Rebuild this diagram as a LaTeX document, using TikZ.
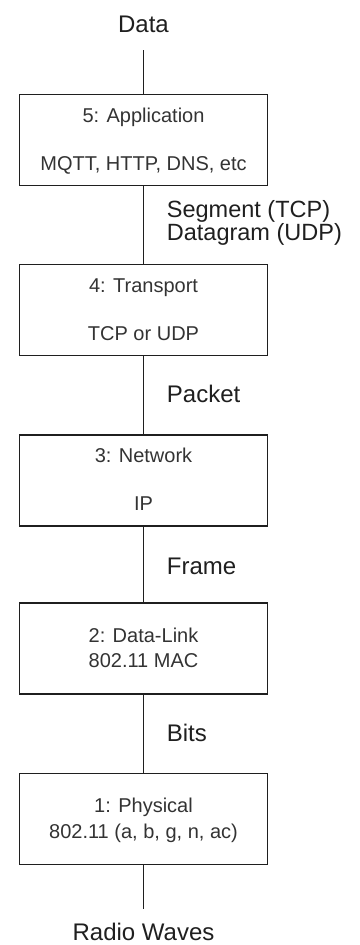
\documentclass[tikz,border=0pt]{standalone}
\usepackage{fontspec}
\setmainfont{Liberation Sans}
\begin{document}
\begin{tikzpicture}[x=1pt, y=-1pt,
  layer/.style={draw=black!88, line width=1.6pt, minimum width=248pt, minimum height=91pt, inner sep=0pt},
  link/.style={draw=black!88, line width=1.6pt},
  boxtext/.style={anchor=base, inner sep=0pt, text=black!80, font=\fontsize{20}{24}\selectfont},
  unit/.style={inner sep=0pt, text=black!88, font=\fontsize{24}{28}\selectfont},
]
\useasboundingbox (0,0) rectangle (359,945);

% OSI layer boxes
\node[layer] (b5) at (143.5,140) {};
\node[layer] (b4) at (143.5,310) {};
\node[layer] (b3) at (143.5,480.5) {};
\node[layer] (b2) at (143.5,648.5) {};
\node[layer] (b1) at (143.5,819) {};

% texts inside the boxes
\node[boxtext] (t5a) at (143.5,122) {5: Application};
\node[boxtext] (t5b) at (143.5,170) {MQTT, HTTP, DNS, etc};
\node[boxtext] (t4a) at (143.5,292.7) {4: Transport};
\node[boxtext] (t4b) at (143.5,340.7) {TCP or UDP};
\node[boxtext] (t3a) at (143.5,462.7) {3: Network};
\node[boxtext] (t3b) at (143.5,510.7) {IP};
\node[boxtext] (t2a) at (143.5,642.7) {2: Data-Link};
\node[boxtext] (t2b) at (143.5,667.3) {802.11 MAC};
\node[boxtext] (t1a) at (143.5,812.7) {1: Physical};
\node[boxtext] (t1b) at (143.5,838.3) {802.11 (a, b, g, n, ac)};

% data units between the layers
\node[unit, anchor=base] (data) at (143.5,32) {Data};
\node[unit, anchor=base west, font=\fontsize{23.5}{28}\selectfont] (seg) at (166.7,217.5) {Segment (TCP)};
\node[unit, anchor=base west, font=\fontsize{23.5}{28}\selectfont] (dgram) at (166.7,240) {Datagram (UDP)};
\node[unit, anchor=base west] (pkt) at (166.7,402.7) {Packet};
\node[unit, anchor=base west] (frame) at (166.7,574) {Frame};
\node[unit, anchor=base west] (bits) at (166.7,741.7) {Bits};
\node[unit, anchor=base] (radio) at (143.5,940.7) {Radio Waves};

% connectors
\coordinate (topend) at (143.5,50);
\coordinate (botend) at (143.5,909);
\draw[link] (topend) -- (b5.north);
\draw[link] (b5.south) -- (b4.north);
\draw[link] (b4.south) -- (b3.north);
\draw[link] (b3.south) -- (b2.north);
\draw[link] (b2.south) -- (b1.north);
\draw[link] (b1.south) -- (botend);
\end{tikzpicture}
\end{document}
